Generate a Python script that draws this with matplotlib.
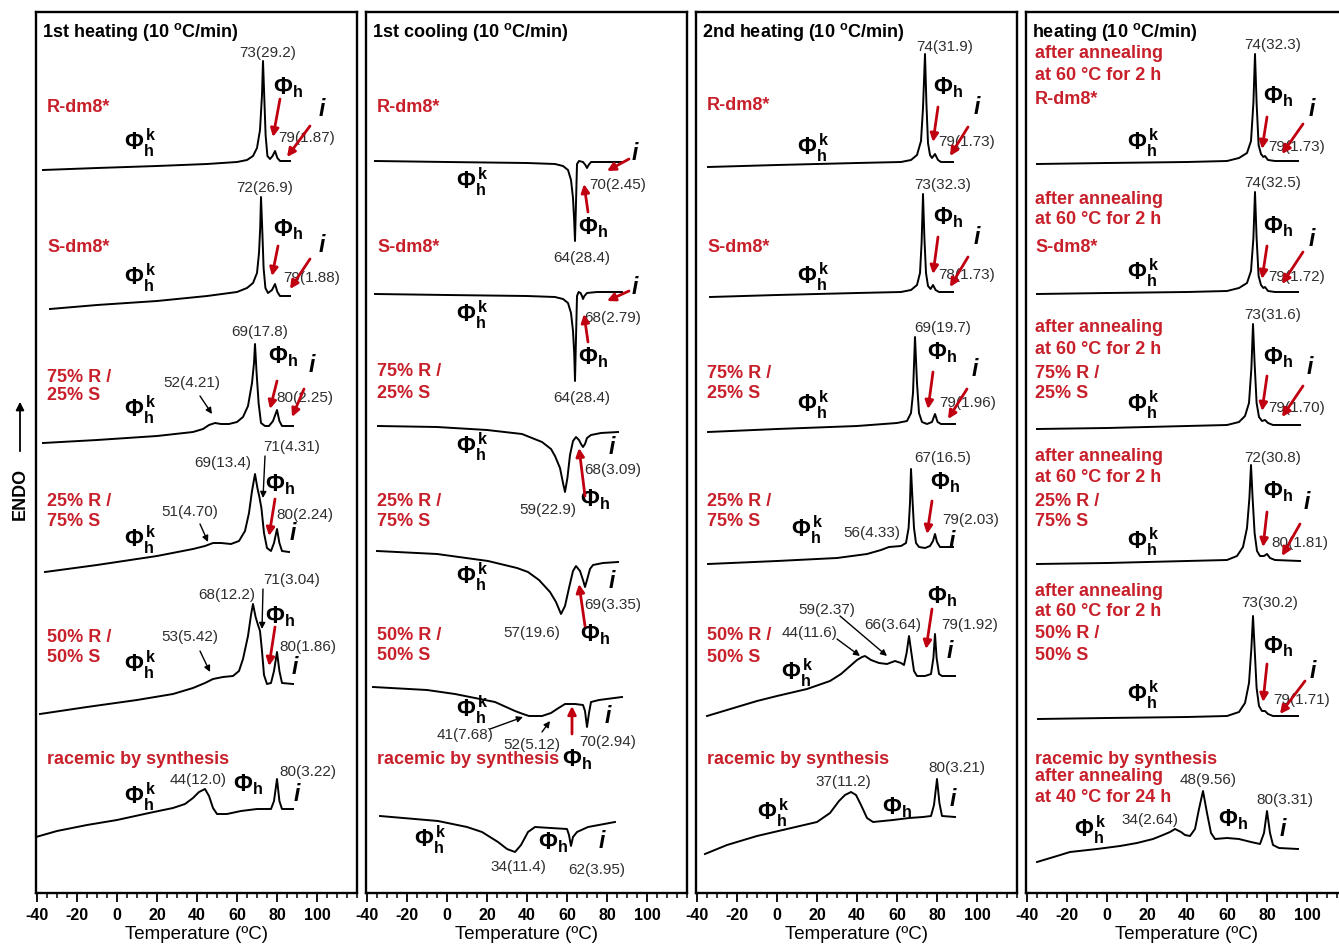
import matplotlib.pyplot as plt
from matplotlib.ticker import MultipleLocator, FixedLocator
from matplotlib.patches import FancyArrowPatch

plt.rcParams['font.family'] = ['Liberation Sans', 'DejaVu Sans']
plt.rcParams['mathtext.fontset'] = 'custom'
plt.rcParams['mathtext.rm'] = 'Liberation Sans'
plt.rcParams['mathtext.bf'] = 'Liberation Sans:bold'
plt.rcParams['mathtext.it'] = 'Liberation Sans:italic'
plt.rcParams['axes.unicode_minus'] = False

RED = '#c8202b'
ARROW_RED = '#c00010'
GRAY = '#2e2e2e'

# ---------------- DSC traces (temperature in C, heat flow in a.u., endo up) ----------------
# each panel holds six traces: R, S, 75R/25S, 25R/75S, 50R/50S, racemic by synthesis
# q values are relative to the trace's own baseline, base is the vertical shift of the trace

heat1_T = [
    [-37, -10, 20, 45, 60, 65, 68, 70, 71.5, 72.5, 73, 73.6, 74.3, 75.2, 76.5, 77.8, 79, 80.2, 81.5, 86.5],
    [-33.5, -10, 20, 45, 60, 65, 68, 70, 71, 71.6, 72, 72.6, 73.3, 74.2, 75.5, 77.5, 79, 80.2, 81.5, 86.5],
    [-37, -10, 20, 38, 43, 46, 49, 52, 56, 60, 63, 65.5, 67.5, 68.5, 69, 69.8, 70.8, 72, 74, 76, 78, 80, 81.2, 82.5, 88],
    [-36, -10, 20, 38, 44, 48, 52, 57, 61, 64, 66, 67.5, 69, 70.2, 71.2, 72.2, 73.5, 75, 77, 78.5, 80, 81.2, 82.5, 86],
    [-38.5, -15, 10, 28, 38, 44, 48, 53, 58, 61, 63, 65.5, 67, 68, 69.3, 70.5, 71.5, 72.5, 73.5, 75, 77, 78.5, 80, 81.2, 82.5, 88],
    [-40.5, -30, -15, 0, 16, 28, 34, 38, 41, 44, 46, 48, 50, 55, 62, 70, 77, 78.5, 80, 81.2, 82.5, 88],
]
heat1_q = [
    [0, 2, 4, 6, 8, 10, 14, 22, 40, 75, 109, 75, 35, 14, 11, 14, 19, 12, 9, 9],
    [0, 4, 8, 13, 17, 21, 26, 36, 56, 81, 112, 81, 41, 21, 16, 19, 25, 17, 13, 13],
    [0, 3, 7, 11, 14, 18, 20, 19, 19, 21, 26, 37, 60, 80, 99, 70, 40, 20, 17, 17, 22, 33, 22, 17, 17],
    [0, 7, 16, 23, 26, 29, 29, 28, 31, 41, 59, 81, 98, 84, 75, 64, 39, 24, 21, 29, 43, 29, 21, 20],
    [0, 7, 14, 20, 26, 31, 35, 37, 38, 43, 55, 78, 99, 110, 97, 89, 83, 63, 39, 30, 31, 43, 62, 43, 31, 30],
    [0, 6, 12, 17, 24, 29, 33, 39, 45, 48, 41, 29, 23, 23, 26, 28, 28, 36, 58, 36, 28, 28],
]
heat1_base = [723, 584, 450, 321, 179, 56]

cool1_T = [
    [-36, 0, 40, 54, 58, 60.5, 62, 63, 63.6, 64, 64.5, 65, 66, 68, 69.2, 70, 70.8, 72, 78, 87.5],
    [-36, 0, 40, 54, 58, 60.5, 62, 63, 63.6, 64, 64.5, 65, 65.8, 66.8, 67.5, 68, 68.7, 70, 75, 87.5],
    [-34.5, -5, 20, 37.5, 47.5, 52, 54, 56.5, 58, 59, 60.2, 61.5, 63, 64.5, 66, 67, 68, 69, 70, 72, 77, 85.5],
    [-35, -5, 20.5, 35, 40.5, 46, 51.5, 54.5, 57, 59, 61, 63, 64.5, 66.5, 68, 69, 70, 71.5, 73, 78, 85.5],
    [-37, -10, 4, 24, 34, 38, 41, 47.5, 52, 55, 59, 64, 68, 69, 70, 71, 72, 76, 87.5],
    [-33.5, -4.5, 10, 17.5, 25.5, 30, 34, 37, 40.5, 44, 52, 60, 61, 62, 63, 65, 70.5, 84],
]
cool1_q = [
    [0, -1, -2, -3, -5, -9, -19, -37, -60, -80, -42, -3, 0, -1, -4, -7, -4, -1, -1, -1],
    [0, -1, -2, -3, -5, -9, -19, -37, -59, -87, -44, -2, 2, 1, -2, -5, -2, 1, 2, 2],
    [0, -1, -4, -8, -16, -23, -30, -42, -57, -66, -52, -29, -15, -11, -14, -18, -21, -18, -12, -9, -7, -6],
    [0, -3, -10, -17, -21, -29, -41, -51, -63, -55, -37, -20, -15, -20, -29, -36, -29, -18, -14, -12, -11],
    [0, -3, -7, -15, -24, -27, -29, -29, -26, -22, -17, -17, -18, -24, -40, -26, -15, -13, -10],
    [0, -5, -11, -16, -26, -33, -36, -29, -16, -11, -12, -13, -19, -30, -21, -16, -11, -6],
]
cool1_base = [732, 599, 467, 342, 206, 77]

heat2_T = [
    [-34.5, 0, 40, 62, 67, 70, 72, 73, 74, 74.7, 75.5, 76.5, 77.5, 79, 80.5, 82, 88],
    [-33.5, 0, 40, 62, 67, 70, 71.5, 72.3, 73, 73.7, 74.5, 75.5, 76.8, 78, 79.3, 81, 88],
    [-34.5, 0, 40, 60, 65, 67, 68, 69, 70, 71, 72.5, 75, 77.5, 79, 80.3, 82, 89],
    [-34.5, 0, 30, 45, 52, 56, 62, 64.5, 65.8, 66.5, 67, 67.7, 68.5, 69.5, 71, 74, 76.5, 78, 79, 80, 81.5, 88],
    [-35, -20, -10, 0, 15, 26.5, 32, 36, 40, 42.5, 44, 47, 51, 55, 59, 62, 63.5, 64.8, 66, 67.2, 68.5, 70, 74,
     77, 78.2, 79, 79.8, 81, 82.5, 89],
    [-36, -25, -10, 5, 20, 26.5, 31, 34, 37, 39.5, 42, 45, 48, 58, 66, 73, 77, 78.5, 80, 81.2, 82.5, 89],
]
heat2_q = [
    [0, 2, 4, 5, 7, 12, 26, 59, 113, 64, 24, 12, 9, 13, 7, 5, 5],
    [0, 2, 4, 5, 7, 12, 24, 54, 103, 59, 24, 11, 8, 12, 7, 5, 5],
    [0, 3, 6, 9, 11, 19, 39, 95, 49, 19, 10, 8, 10, 18, 10, 8, 8],
    [0, 3, 6, 10, 14, 17, 18, 21, 36, 61, 95, 66, 36, 21, 17, 16, 18, 23, 30, 22, 17, 17],
    [0, 9, 15, 20, 27, 35, 42, 49, 56, 59, 60, 56, 53, 52, 55, 53, 51, 63, 80, 63, 45, 40, 40,
     42, 58, 82, 58, 42, 40, 40],
    [0, 9, 18, 25, 32, 41, 53, 59, 62, 59, 49, 36, 32, 34, 36, 37, 38, 49, 75, 51, 38, 37],
]
heat2_base = [726, 596, 461, 329, 177, 39]

anneal_T = [
    [-35, 0, 40, 60, 66, 70, 72, 73.2, 74, 74.8, 75.8, 77, 78.2, 79, 80.5, 84, 95.5],
    [-35, 0, 40, 60, 66, 70, 72, 73.2, 74, 74.8, 75.8, 77, 78.2, 79, 80.5, 84, 95.5],
    [-35, 0, 40, 60, 66, 69, 71, 72.2, 73, 73.8, 74.8, 76, 77.5, 79, 80.5, 83, 96.5],
    [-35, 0, 40, 60, 65, 68, 70, 71.2, 72, 72.8, 73.8, 75, 76.5, 78.5, 80, 81.5, 84, 96.5],
    [-34.5, 0, 40, 60, 66, 69, 71, 72.2, 73, 73.8, 74.8, 76, 77.5, 79, 80.5, 83, 95.5],
    [-35, -25, -18.5, -5, 6.5, 15, 23, 28, 31.5, 34, 37, 39, 41.5, 44, 46, 48, 50, 52, 54, 60, 66, 72,
     76.5, 78.5, 80, 81.5, 83, 86, 95.5],
]
anneal_q = [
    [0, 1, 2, 3, 6, 11, 23, 61, 110, 61, 19, 10, 7, 8, 4, 3, 3],
    [0, 1, 2, 3, 6, 11, 23, 56, 102, 56, 18, 9, 6, 7, 3, 2, 2],
    [0, 1, 3, 4, 7, 13, 26, 61, 105, 66, 26, 12, 8, 9, 6, 4, 4],
    [0, 1, 3, 4, 8, 17, 36, 66, 99, 66, 31, 13, 8, 8, 10, 6, 4, 3],
    [0, 1, 2, 3, 7, 16, 36, 71, 103, 71, 31, 13, 8, 8, 5, 3, 3],
    [0, 6, 10, 13, 16, 19, 23, 27, 30, 33, 30, 27, 26, 33, 53, 71, 49, 29, 23, 24, 23, 20,
     18, 29, 51, 29, 17, 14, 13],
]
anneal_base = [729, 599, 464, 329, 174, 31]

titles = ['1st heating (10 $^{\\mathbf{o}}$C/min)', '1st cooling (10 $^{\\mathbf{o}}$C/min)',
          '2nd heating (10 $^{\\mathbf{o}}$C/min)', 'heating (10 $^{\\mathbf{o}}$C/min)']

# ---------------- labels: (text, temperature, height) ----------------
p1_red = [('R-dm8*', 787), ('S-dm8*', 646), ('75% R /', 516), ('25% S', 498), ('25% R /', 392),
          ('75% S', 372), ('50% R /', 257), ('50% S', 237), ('racemic by synthesis', 134)]
p2_red = [('R-dm8*', 786), ('S-dm8*', 646), ('75% R /', 522), ('25% S', 501), ('25% R /', 392),
          ('75% S', 372), ('50% R /', 259), ('50% S', 239), ('racemic by synthesis', 134)]
p3_red = [('R-dm8*', 789), ('S-dm8*', 647), ('75% R /', 521), ('25% S', 501), ('25% R /', 392),
          ('75% S', 372), ('50% R /', 259), ('50% S', 237), ('racemic by synthesis', 134)]
p4_red = [('after annealing', 841), ('at 60 °C for 2 h', 819), ('R-dm8*', 794),
          ('after annealing', 694), ('at 60 °C for 2 h', 674), ('S-dm8*', 647),
          ('after annealing', 566), ('at 60 °C for 2 h', 544), ('75% R /', 521), ('25% S', 501),
          ('after annealing', 437), ('at 60 °C for 2 h', 416), ('25% R /', 392), ('75% S', 372),
          ('after annealing', 302), ('at 60 °C for 2 h', 282), ('50% R /', 261), ('50% S', 239),
          ('racemic by synthesis', 134), ('after annealing', 117), ('at 40 °C for 24 h', 96)]

p1_vals = [('73(29.2)', 75.5, 841), ('79(1.87)', 95, 756), ('72(26.9)', 74, 706), ('79(1.88)', 97.5, 616),
           ('69(17.8)', 71.5, 562), ('52(4.21)', 37.5, 511), ('80(2.25)', 94, 496), ('69(13.4)', 53, 431),
           ('71(4.31)', 87.5, 447), ('51(4.70)', 36.5, 382), ('80(2.24)', 94, 379), ('68(12.2)', 55, 299),
           ('71(3.04)', 87.5, 314), ('53(5.42)', 36.5, 257), ('80(1.86)', 95.5, 247), ('44(12.0)', 40.5, 114),
           ('80(3.22)', 95.5, 122)]
p2_vals = [('70(2.45)', 85.5, 709), ('64(28.4)', 67.5, 636), ('68(2.79)', 83, 576), ('64(28.4)', 67.5, 496),
           ('68(3.09)', 83, 424), ('59(22.9)', 50.5, 384), ('69(3.35)', 83, 289), ('57(19.6)', 42.5, 261),
           ('41(7.68)', 9, 159), ('52(5.12)', 42.5, 149), ('70(2.94)', 80.5, 152), ('34(11.4)', 35.5, 27),
           ('62(3.95)', 75, 24)]
p3_vals = [('74(31.9)', 84, 847), ('79(1.73)', 95, 752), ('73(32.3)', 83, 709), ('78(1.73)', 95, 619),
           ('69(19.7)', 83, 566), ('79(1.96)', 95.5, 491), ('67(16.5)', 83, 436), ('56(4.33)', 47.5, 361),
           ('79(2.03)', 97, 374), ('59(2.37)', 25, 284), ('44(11.6)', 16.5, 261), ('66(3.64)', 58, 269),
           ('79(1.92)', 96.5, 269), ('37(11.2)', 33, 112), ('80(3.21)', 90, 126)]
p4_vals = [('74(32.3)', 83, 849), ('79(1.73)', 95, 747), ('74(32.5)', 83, 711), ('79(1.72)', 95, 617),
           ('73(31.6)', 83, 579), ('79(1.70)', 95, 486), ('72(30.8)', 83, 436), ('80(1.81)', 96.5, 351),
           ('73(30.2)', 81.5, 291), ('79(1.71)', 97.5, 194), ('48(9.56)', 50.5, 114), ('34(2.64)', 21.5, 74),
           ('80(3.31)', 89, 94)]

p1_phk = [(11.5, 751), (11.5, 616), (11.5, 484), (11.5, 354), (11.5, 229), (11.5, 97)]
p2_phk = [(12.5, 712), (12.5, 579), (12.5, 447), (12.5, 317), (12.5, 184), (-8.5, 54)]
p3_phk = [(18, 746), (18, 617), (18, 489), (15, 364), (10, 221), (-2, 81)]
p4_phk = [(18, 751), (18, 621), (18, 489), (18, 352), (18, 199), (-8.5, 64)]

p1_ph = [(85.5, 806), (85.5, 664), (83, 537), (81.5, 409), (81.5, 277), (65.5, 109)]
p2_ph = [(73, 666), (73, 536), (74, 394), (74, 259), (65, 134), (53, 51)]
p3_ph = [(85.5, 806), (85.5, 676), (82.5, 541), (84, 411), (82.5, 297), (60, 86)]
p4_ph = [(85.5, 797), (85.5, 667), (85.5, 536), (85.5, 402), (85.5, 247), (63, 74)]

p1_i = [(102.5, 784), (102.5, 649), (97.5, 529), (88, 361), (89, 226), (90, 99)]
p2_i = [(94, 741), (94, 607), (82.5, 446), (82.5, 312), (80.5, 177), (77.5, 52)]
p3_i = [(100, 787), (100, 657), (99, 524), (87.5, 353), (86.5, 242), (88, 94)]
p4_i = [(102.5, 784), (102.5, 654), (101.5, 526), (100, 391), (103, 222), (88, 64)]

p1_red_arrows = [((81.5, 794), (78, 756)), ((96.5, 767), (85, 736)), ((80.5, 647), (77.5, 617)),
                 ((96.5, 634), (86.5, 604)), ((80, 512), (76.5, 484)), ((93.5, 504), (87.5, 476)),
                 ((79, 394), (76, 357)), ((79, 266), (76, 227))]
p2_red_arrows = [((91, 734), (80, 722)), ((70.5, 681), (68.5, 709)), ((91, 602), (80, 592)),
                 ((70.5, 551), (68.5, 579)), ((69, 397), (66, 445)), ((69, 267), (66, 309)),
                 ((62.5, 159), (62.5, 187))]
p3_red_arrows = [((80.5, 786), (78, 751)), ((95.5, 766), (86.5, 737)), ((80.5, 656), (78, 619)),
                 ((95.5, 636), (86.5, 606)), ((78, 521), (75.5, 484)), ((95, 504), (85.5, 474)),
                 ((77.5, 392), (75, 359)), ((77.5, 284), (74.5, 244))]
p4_red_arrows = [((80, 776), (77.5, 744)), ((98, 769), (87.5, 739)), ((80, 647), (77.5, 614)),
                 ((98, 641), (87.5, 609)), ((80, 517), (77.5, 482)), ((98, 507), (87.5, 476)),
                 ((80, 381), (78, 346)), ((96.5, 369), (87.5, 337)), ((80, 229), (78, 191)),
                 ((99, 212), (86.5, 179))]

p1_black_arrows = [((41.5, 497), (47.5, 479)), ((74, 437), (73, 395)), ((41.5, 369), (45.5, 351)),
                   ((73, 304), (72.5, 264)), ((41.5, 242), (46.5, 221))]
p2_black_arrows = [((21.5, 164), (38, 176)), ((47.5, 161), (51.5, 172))]
p3_black_arrows = [((31.5, 277), (55, 237)), ((30, 254), (41.5, 237))]
p4_black_arrows = []

panels = [
    (heat1_T, heat1_q, heat1_base, p1_red, p1_vals, p1_phk, p1_ph, p1_i, p1_red_arrows, p1_black_arrows),
    (cool1_T, cool1_q, cool1_base, p2_red, p2_vals, p2_phk, p2_ph, p2_i, p2_red_arrows, p2_black_arrows),
    (heat2_T, heat2_q, heat2_base, p3_red, p3_vals, p3_phk, p3_ph, p3_i, p3_red_arrows, p3_black_arrows),
    (anneal_T, anneal_q, anneal_base, p4_red, p4_vals, p4_phk, p4_ph, p4_i, p4_red_arrows, p4_black_arrows),
]

W, H = 1339, 945
fig = plt.figure(figsize=(W / 100, H / 100), dpi=100, facecolor='white')
lefts = [36, 366, 696, 1026]

for k, (Ts, qs, base, reds, vals, phk, ph, ii, rarr, barr) in enumerate(panels):
    ax = fig.add_axes([lefts[k] / W, 51 / H, 321 / W, 881 / H])
    ax.set_xlim(-40.5, 120)
    ax.set_ylim(0, 881)

    for T, q, b in zip(Ts, qs, base):
        ax.plot(T, [b + v for v in q], color='black', lw=1.4, solid_joinstyle='round')

    ax.text(-37.5, 862, titles[k], fontsize=13, fontweight='bold', ha='left', va='center')
    red_x = -36 if k == 3 else -35
    for txt, y in reds:
        ax.text(red_x, y, txt, color=RED, fontsize=13, fontweight='bold', ha='left', va='center')
    for txt, x, y in vals:
        ax.text(x, y, txt, color=GRAY, fontsize=11, ha='center', va='center')
    for x, y in phk:
        ax.text(x, y, r'$\mathbf{\Phi_h^{\,k}}$', fontsize=16.5, ha='center', va='center')
    for x, y in ph:
        ax.text(x, y, r'$\mathbf{\Phi_h}$', fontsize=16.5, ha='center', va='center')
    for x, y in ii:
        ax.text(x, y, 'i', fontsize=16.5, fontweight='bold', fontstyle='italic', ha='center', va='center')
    for start, end in rarr:
        ax.annotate('', xy=end, xytext=start,
                    arrowprops=dict(arrowstyle='-|>', color=ARROW_RED, lw=2.0,
                                    mutation_scale=12, shrinkA=0, shrinkB=0))
    for start, end in barr:
        ax.annotate('', xy=end, xytext=start,
                    arrowprops=dict(arrowstyle='-|>', color='black', lw=1.0,
                                    mutation_scale=9, shrinkA=0, shrinkB=0))

    ax.set_yticks([])
    ax.xaxis.set_major_locator(FixedLocator([-40, -20, 0, 20, 40, 60, 80, 100]))
    ax.xaxis.set_minor_locator(MultipleLocator(5))
    ax.tick_params(axis='x', which='major', direction='out', length=6.5, width=1.3,
                   labelsize=11.5, pad=3.5)
    ax.tick_params(axis='x', which='minor', direction='out', length=3.5, width=1.1)
    for lbl in ax.get_xticklabels():
        lbl.set_fontweight('bold')
    for s in ax.spines.values():
        s.set_linewidth(1.7)
    ax.set_xlabel('Temperature (ºC)', fontsize=13.5, labelpad=2.5)

fig.text(20 / W, 1 - 494 / H, 'ENDO', rotation=90, fontsize=13, fontweight='bold',
         ha='center', va='center')
fig.add_artist(FancyArrowPatch((20 / W, 1 - 455 / H), (20 / W, 1 - 400 / H),
                               transform=fig.transFigure, arrowstyle='-|>',
                               mutation_scale=12, lw=1.3, color='black'))

fig.savefig('out.png', dpi=100, facecolor='white')
